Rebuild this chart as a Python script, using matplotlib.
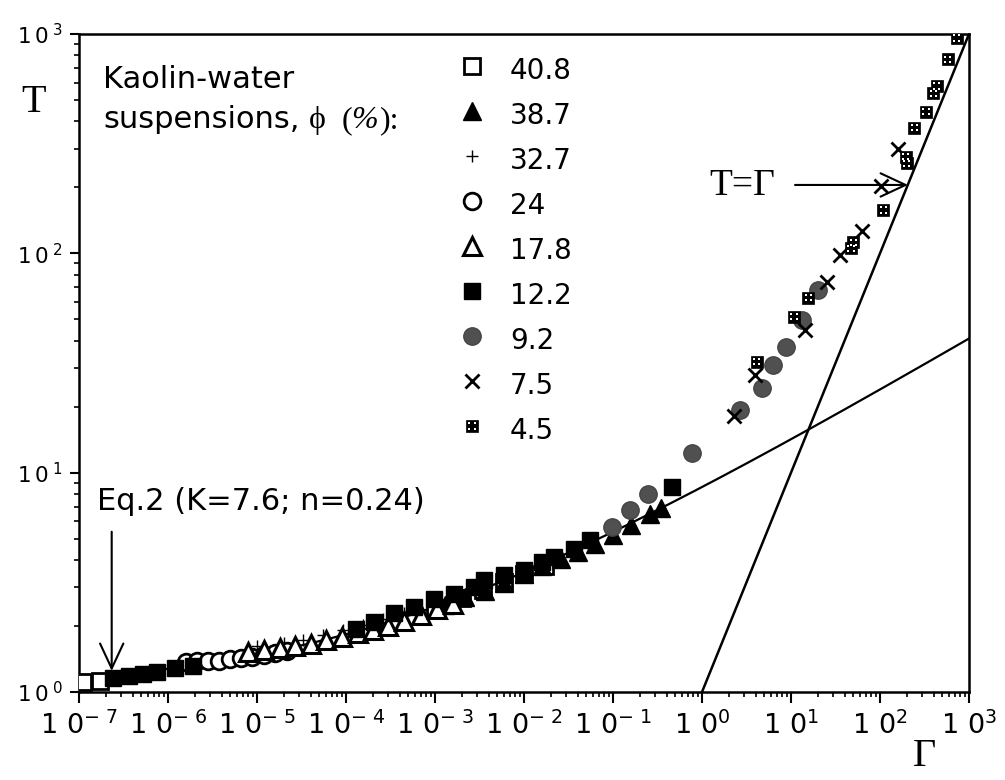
import numpy as np
import matplotlib.pyplot as plt
from matplotlib.transforms import ScaledTranslation
from matplotlib.ticker import FixedLocator, LogLocator, FuncFormatter, NullFormatter

# Eq.2 parameters
K = 7.6
n = 0.24

# Measured points, volume fraction phi (%) -> (Gamma, T)
phi_labels = ['40.8', '38.7', '32.7', '24', '17.8', '12.2', '9.2', '7.5', '4.5']

g_408 = [1.1e-7, 1.7e-7, 1.0e-3, 2.0e-3, 3.5e-3, 6.0e-3, 1.0e-2, 1.7e-2]
t_408 = [1.11, 1.12, 2.42, 2.68, 2.93, 3.18, 3.45, 3.75]

g_387 = [1.3e-3, 2.2e-3, 3.6e-3, 6.0e-3, 1.0e-2, 1.6e-2, 2.6e-2, 4.0e-2, 6.3e-2, 0.1, 0.16, 0.26, 0.35]
t_387 = [2.5, 2.7, 2.9, 3.15, 3.45, 3.75, 4.05, 4.35, 4.75, 5.2, 5.75, 6.5, 6.9]

g_327 = [1.0e-5, 2.0e-5, 3.3e-5, 5.5e-5, 9.2e-5, 1.55e-4, 2.6e-4, 4.5e-4]
t_327 = [1.62, 1.68, 1.72, 1.82, 1.92, 2.03, 2.16, 2.3]

g_24 = [1.6e-6, 2.1e-6, 2.8e-6, 3.7e-6, 5.0e-6, 6.6e-6, 8.8e-6, 1.2e-5, 1.6e-5, 2.2e-5]
t_24 = [1.37, 1.38, 1.39, 1.38, 1.41, 1.43, 1.44, 1.47, 1.5, 1.54]

g_178 = [8e-6, 1.2e-5, 1.8e-5, 2.7e-5, 4e-5, 6e-5, 9e-5, 1.35e-4, 2e-4, 3e-4, 4.5e-4, 7e-4, 1.05e-3, 1.6e-3]
t_178 = [1.52, 1.56, 1.59, 1.62, 1.66, 1.72, 1.79, 1.85, 1.92, 2.0, 2.1, 2.24, 2.38, 2.52]

g_122 = [2.4e-7, 3.6e-7, 5.3e-7, 7.6e-7, 1.2e-6, 1.9e-6, 1.3e-4, 2.07e-4, 3.43e-4, 5.75e-4, 9.66e-4,
         1.62e-3, 2.72e-3, 3.53e-3, 5.9e-3, 9.9e-3, 1.6e-2, 2.15e-2, 3.6e-2, 5.5e-2, 0.457]
t_122 = [1.16, 1.18, 1.21, 1.24, 1.28, 1.31, 1.93, 2.08, 2.29, 2.44, 2.66,
         2.81, 3.01, 3.24, 3.42, 3.61, 3.92, 4.13, 4.5, 4.93, 8.63]

g_92 = [0.0966, 0.155, 0.245, 0.78, 2.67, 4.69, 6.32, 8.79, 13.2, 20.3]
t_92 = [5.67, 6.76, 7.97, 12.3, 19.3, 24.3, 31.0, 37.5, 49.7, 68.1]

g_75 = [2.29, 3.94, 14.4, 25.2, 35.6, 62.2, 102.6, 160.7]
t_75 = [18.1, 27.9, 44.8, 74.3, 98.4, 126.5, 203, 299]

g_45 = [4.12, 10.8, 15.6, 47.2, 50.1, 108.9, 194.6, 199.5, 242.7, 328.6, 397, 434, 577, 728]
t_45 = [32.1, 51.5, 62.8, 105.5, 112.4, 157.8, 276, 257.6, 374, 443, 537, 580, 767, 960]

styles = [
    dict(marker='s', ms=11, mfc='white', mec='black', mew=2.0),
    dict(marker='^', ms=13, mfc='black', mec='black', mew=1),
    dict(marker='+', ms=9, mfc='black', mec='black', mew=1.0),
    dict(marker='o', ms=12, mfc='white', mec='black', mew=2.0),
    dict(marker='^', ms=13, mfc='white', mec='black', mew=2.2),
    dict(marker='s', ms=11.5, mfc='black', mec='black', mew=1),
    dict(marker='o', ms=12.5, mfc='#505050', mec='#444444', mew=1),
    dict(marker='x', ms=9.5, mfc='black', mec='black', mew=2.0),
    dict(marker='s', ms=9, mfc='black', mec='black', mew=0.5),
]
series = [(g_408, t_408), (g_387, t_387), (g_327, t_327), (g_24, t_24), (g_178, t_178),
          (g_122, t_122), (g_92, t_92), (g_75, t_75), (g_45, t_45)]

W, H = 1005, 780
fig = plt.figure(figsize=(W / 100, H / 100), dpi=100)


def px(x, y):
    return x / W, 1 - y / H


L, R, TOP, BOT = 79, 969, 34, 692
ax = fig.add_axes([L / W, 1 - BOT / H, (R - L) / W, (BOT - TOP) / H])
ax.set_xscale('log')
ax.set_yscale('log')
ax.set_xlim(1e-7, 1e3)
ax.set_ylim(1, 1e3)


def grid_dots(x, y, base, **kw):
    # four white dots on top of the black squares of the 4.5 % series
    for dx in (-1.9, 1.9):
        for dy in (-1.9, 1.9):
            tr = base + ScaledTranslation(dx / 72, dy / 72, fig.dpi_scale_trans)
            ax.plot(x, y, ls='none', marker='s', ms=1.7, mfc='white', mew=0,
                    transform=tr, zorder=4, **kw)


# model curve and T = Gamma line
g_line = np.logspace(-7, 3, 400)
ax.plot(g_line, 1 + K * g_line ** n, color='black', lw=1.6, zorder=2)
g_id = np.array([1.0, 1e3])
ax.plot(g_id, g_id, color='black', lw=1.8, zorder=2)

for (g, t), st in zip(series, styles):
    ax.plot(g, t, ls='none', zorder=3, **st)
grid_dots(g_45, t_45, ax.transData)

# legend drawn by hand
for i, (lab, st) in enumerate(zip(phi_labels, styles)):
    y = 66 + 45 * i
    lx, ly = (472 - L) / (R - L), (BOT - y) / (BOT - TOP)
    ax.plot([lx], [ly], ls='none', transform=ax.transAxes, clip_on=False, zorder=4, **st)
    if lab == '4.5':
        grid_dots([lx], [ly], ax.transAxes, clip_on=False)
    fig.text(*px(510, y + 13), lab, fontsize=20, ha='left', va='baseline')

fig.text(*px(103, 88), 'Kaolin-water', fontsize=22, ha='left', va='baseline')
fig.text(*px(103, 128), 'suspensions,', fontsize=22, ha='left', va='baseline')
fig.text(*px(309, 128), 'ϕ', fontsize=23, family='Liberation Serif', ha='left', va='baseline')
fig.text(*px(342, 128), '(', fontsize=23, family='Liberation Serif', ha='left', va='baseline')
fig.text(*px(351, 128), '%', fontsize=23, family='Liberation Serif', style='italic',
         ha='left', va='baseline')
fig.text(*px(380, 128), '):', fontsize=23, family='Liberation Serif', ha='left', va='baseline')

fig.text(*px(97, 510), 'Eq.2 (K=7.6; n=0.24)', fontsize=22, ha='left', va='baseline')
fig.text(*px(709, 195), 'T=Γ', fontsize=27, family='Liberation Serif', ha='left', va='baseline')

arrow = dict(arrowstyle='->,head_length=0.9,head_width=0.42', lw=1.5, color='black',
             shrinkA=0, shrinkB=0, mutation_scale=20)
ax.annotate('', xy=(2.33e-7, 1.247), xytext=(2.33e-7, 5.38), arrowprops=arrow, zorder=5)
ax.annotate('', xy=(206.5, 205), xytext=(11.1, 205), arrowprops=arrow, zorder=5)

# axis labels
fig.text(*px(34, 103), 'T', fontsize=29, family='Liberation Serif', ha='center', va='center')
fig.text(*px(924, 766), 'Γ', fontsize=29, family='Liberation Serif', ha='center', va='baseline')

# ticks
ax.xaxis.set_major_locator(FixedLocator(10.0 ** np.arange(-7, 4)))
ax.yaxis.set_major_locator(FixedLocator(10.0 ** np.arange(0, 4)))
ax.xaxis.set_minor_locator(LogLocator(base=10, subs=np.arange(2, 10), numticks=100))
ax.yaxis.set_minor_locator(LogLocator(base=10, subs=np.arange(2, 10), numticks=100))
ax.xaxis.set_minor_formatter(NullFormatter())
ax.yaxis.set_minor_formatter(NullFormatter())


def xfmt(v, pos):
    e = int(round(np.log10(v)))
    s = r'-\ %d' % -e if e < 0 else '%d' % e
    return r'$\mathregular{1\ 0^{%s}}$' % s


def yfmt(v, pos):
    e = int(round(np.log10(v)))
    return r'$\mathregular{1\,0^{\ %d}}$' % e


ax.xaxis.set_major_formatter(FuncFormatter(xfmt))
ax.yaxis.set_major_formatter(FuncFormatter(yfmt))
ax.tick_params(axis='x', which='major', direction='out', length=8, width=1.5, labelsize=19.5, pad=6)
ax.tick_params(axis='y', which='major', direction='out', length=6.5, width=1.5, labelsize=15.5, pad=5)
ax.tick_params(which='minor', direction='out', length=3.6, width=1.2)
ax.tick_params(top=False, right=False, which='both')

for sp in ax.spines.values():
    sp.set_linewidth(1.8)

fig.savefig('out.png', dpi=100)
